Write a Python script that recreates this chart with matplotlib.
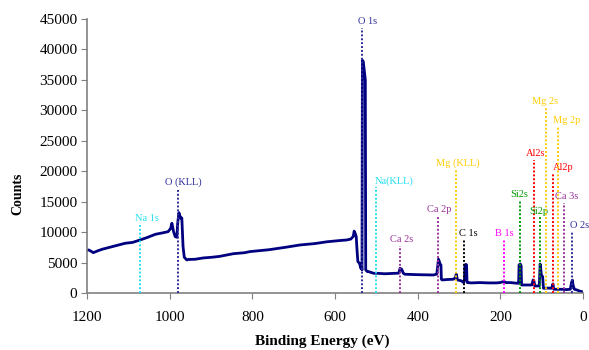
import matplotlib
matplotlib.use('Agg')
import matplotlib.pyplot as plt

plt.rcParams['font.family'] = ['Liberation Serif', 'DejaVu Serif']

# XPS survey spectrum
energy = [1200, 1196, 1185, 1175, 1164, 1140, 1108, 1090, 1072, 1055, 1035, 1015, 1004,
          998, 995, 991, 987, 983, 981, 978, 976, 973, 971, 968, 965, 959, 955, 939, 919,
          900, 880, 846, 820, 806, 760, 720, 685, 650, 620, 590, 572, 562, 556, 554, 551,
          549, 547, 545, 541, 538, 536, 535, 534, 532, 530, 528, 527, 526, 522, 519, 507,
          499, 480, 450, 446, 443, 439, 435, 431, 400, 380, 362, 354, 352, 350, 348, 346,
          344, 343, 341, 330, 314, 309, 307, 304, 295, 289, 287, 286, 284, 282, 281, 280,
          270, 250, 230, 210, 201, 193, 189, 186, 175, 160, 156, 155, 152, 150, 149, 135,
          124, 121, 119, 117, 106, 104, 103, 101, 98, 96, 85, 77, 75, 73, 71, 60, 50, 40,
          31, 28, 26, 24, 21, 15, 8, 3, 0]
counts = [7000, 7060, 6620, 6900, 7170, 7600, 8160, 8300, 8700, 9100, 9630, 9900, 10070,
          10600, 11440, 10070, 9250, 9140, 11440, 13190, 12700, 12270, 12300, 7600, 5860,
          5420, 5500, 5530, 5750, 5850, 6000, 6450, 6600, 6790, 7100, 7500, 7880, 8100, 8400,
          8600, 8700, 8850, 9300, 10150, 9700, 9250, 7000, 5140, 4870, 4050, 4300, 3800,
          38200, 38000, 36800, 35500, 35000, 3780, 3500, 3500, 3230, 3230, 3150, 3230, 3250,
          4050, 3890, 3230, 3070, 3000, 2980, 2950, 3100, 4320, 5530, 5200, 4700, 4600, 2250,
          2130, 2200, 2250, 2500, 3100, 2130, 2000, 1700, 2250, 4500, 4700, 4600, 1860, 1700,
          1650, 1700, 1650, 1650, 1700, 1860, 1800, 1700, 1700, 1590, 1600, 4600, 4760, 4500,
          1310, 1300, 1310, 2130, 2000, 1150, 1150, 4760, 4300, 2950, 2680, 770, 800, 770,
          1040, 1480, 600, 600, 600, 550, 600, 1700, 2100, 1200, 600, 490, 300, 200, 160]

# peak markers
peak_labels = ['Na 1s', 'O (KLL)', 'O 1s', 'Na(KLL)', 'Ca 2s', 'Ca 2p', 'Mg (KLL)', 'C 1s',
               'B 1s', 'Si2s', 'Al2s', 'Si2p', 'Mg 2s', 'Al2p', 'Mg 2p', 'Ca 3s', 'O 2s']
peak_energy = [1072, 980, 534, 501, 443, 351, 307, 287, 191, 152, 119, 104, 89, 74, 60, 46, 26]
peak_top = [11170, 17080, 43500, 17360, 7770, 12640, 20360, 8810, 8810, 15160, 21840,
            12430, 30490, 19650, 27310, 14830, 10070]
peak_colors = ['#22e0f0', '#2e2e99', '#2e2e99', '#22e0f0', '#993399', '#993399', '#ffcc00',
               '#000000', '#ff00ff', '#009900', '#ff0000', '#009900', '#ffcc00', '#ff0000',
               '#ffcc00', '#993399', '#2e2e99']
label_dx = [5, 4, 4, 13, 1, 1, 1, 3, 0, -1, 1, -1, -1, 8, 6, 2, 5]

fig = plt.figure(figsize=(5.89, 3.5), dpi=100)
ax = fig.add_axes([0.148, 0.163, 0.842, 0.783])

ax.plot(energy, counts, color='#000080', lw=2, zorder=2)

for lab, e, top, c, dx in zip(peak_labels, peak_energy, peak_top, peak_colors, label_dx):
    ax.plot([e, e], [0, top], color=c, lw=1.4, ls=(0, (1, 1)), zorder=3)
    ax.annotate(lab, xy=(e, top), xytext=(dx, 4.5), textcoords='offset points',
                ha='center', va='center', fontsize=7.5, color=c)

ax.set_xlim(1200, 0)
ax.set_ylim(0, 45000)
ax.set_xticks(range(0, 1201, 200))
ax.set_yticks(range(0, 45001, 5000))
ax.tick_params(axis='y', labelsize=11, length=4, color='#808080', pad=3)
ax.tick_params(axis='x', labelsize=11, length=4, color='#808080', pad=9)

for s in ['top', 'right']:
    ax.spines[s].set_visible(False)
for s in ['left', 'bottom']:
    ax.spines[s].set_color('#808080')
    ax.spines[s].set_linewidth(1.2)

fig.text(0.031, 0.446, 'Counts', rotation=90, ha='center', va='center',
         fontsize=10, fontweight='bold')
fig.text(0.547, 0.025, 'Binding Energy (eV)', ha='center', va='center',
         fontsize=11, fontweight='bold')

fig.savefig('out.png', dpi=100, facecolor='white')
